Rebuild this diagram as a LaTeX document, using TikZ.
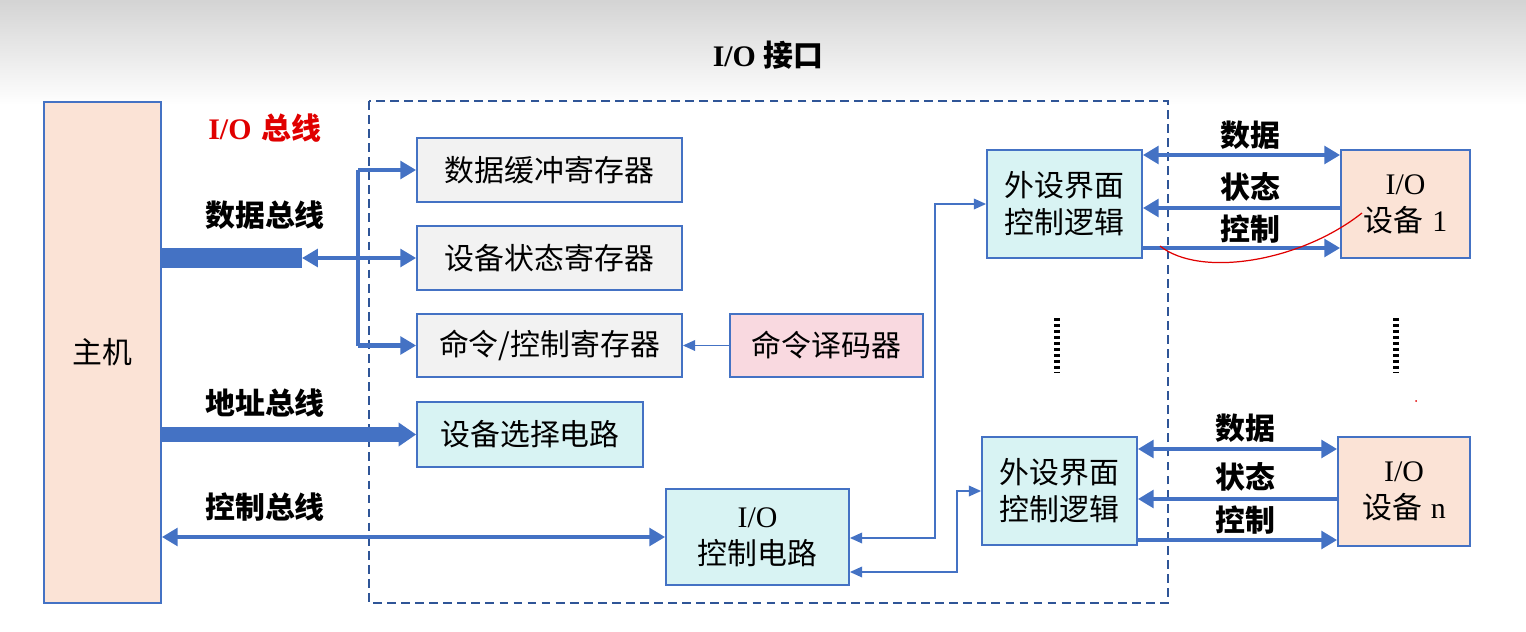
\documentclass[tikz,border=0pt]{standalone}
\usepackage{fontspec}
\setmainfont{Liberation Serif}
\newfontfamily\cjk{Noto Sans CJK SC}
\usetikzlibrary{arrows.meta}
\definecolor{lineblue}{HTML}{4472C4}
\definecolor{frameblue}{HTML}{2F5597}
\definecolor{peach}{HTML}{FBE3D6}
\definecolor{reggray}{HTML}{F2F2F2}
\definecolor{pinkfill}{HTML}{F9D9E0}
\definecolor{cyanfill}{HTML}{D8F3F3}
\definecolor{busred}{HTML}{E00000}
\tikzset{
  blk/.style={draw=lineblue, line width=1pt, inner sep=0pt, align=center,
    font=\fontsize{17}{21}\selectfont\cjk},
  hostbox/.style={blk, fill=peach},
  regbox/.style={blk, fill=reggray},
  decbox/.style={blk, fill=pinkfill},
  ctlbox/.style={blk, fill=cyanfill},
  lbl/.style={font=\fontsize{17}{20}\selectfont\cjk\bfseries},
  bus/.style={draw=lineblue, line width=2.3pt, >={Triangle[length=9pt,width=10pt]}},
  sig/.style={draw=lineblue, line width=1.1pt, >={Triangle[length=7pt,width=6pt]}},
  dots/.style={line width=3pt, dash pattern=on 1.6pt off 1.8pt}
}
\begin{document}
\begin{tikzpicture}[x=0.02cm,y=-0.02cm]
  \useasboundingbox (0,0) rectangle (1526,632);
  \shade[top color=black!17, bottom color=white] (0,0) rectangle (1526,105);
  \node[font=\fontsize{17}{18}\selectfont\bfseries] (title) at (768,55) {I/O {\cjk 接口}};

  % host and interface frame
  \node[hostbox, minimum width=2.34cm, minimum height=10.02cm] (host) at (102.5,352.5) {主机};
  \draw[frameblue, line width=1.4pt, dash pattern=on 5pt off 3pt] (369,101) rectangle (1168,603);

  % registers and circuits
  \node[regbox, minimum width=5.3cm, minimum height=1.28cm] (buf) at (549.5,170) {数据缓冲寄存器};
  \node[regbox, minimum width=5.3cm, minimum height=1.28cm] (stat) at (549.5,258) {设备状态寄存器};
  \node[regbox, minimum width=5.3cm, minimum height=1.26cm] (cmd) at (549.5,345.5) {命令/控制寄存器};
  \node[decbox, minimum width=3.86cm, minimum height=1.26cm] (dec) at (826.5,345.5) {命令译码器};
  \node[ctlbox, minimum width=4.52cm, minimum height=1.3cm] (sel) at (530,434.5) {设备选择电路};
  \node[ctlbox, minimum width=3.66cm, minimum height=1.92cm] (ioc) at (757.5,537) {\textrm{I/O}\\控制电路};
  \node[ctlbox, minimum width=3.1cm, minimum height=2.16cm] (pif1) at (1064.5,204) {外设界面\\控制逻辑};
  \node[ctlbox, minimum width=3.1cm, minimum height=2.16cm] (pifn) at (1059.5,491) {外设界面\\控制逻辑};
  \node[hostbox, minimum width=2.58cm, minimum height=2.16cm] (dev1) at (1405.5,204) {\textrm{I/O}\\设备\hspace{0.3em}\textrm{1}};
  \node[hostbox, minimum width=2.64cm, minimum height=2.18cm] (devn) at (1404,491.5) {\textrm{I/O}\\设备\hspace{0.3em}\textrm{n}};

  % bus labels
  \node[lbl, text=busred] (iobus) at (265,128) {\textrm{I/O}\hspace{0.35em}总线};
  \node[lbl] (dlbl) at (265,215) {数据总线};
  \node[lbl] (albl) at (265,403) {地址总线};
  \node[lbl] (clbl) at (265,507) {控制总线};

  % data bus
  \coordinate (dend) at (302,258);
  \coordinate (split) at (358,258);
  \draw[lineblue, line width=11.3pt] (host.east |- dend) -- (dend);
  \draw[bus, <-] (dend) -- (split);
  \draw[bus] (split |- buf.west) -- (split |- cmd.west);
  \draw[bus, ->] (split |- buf.west) -- (buf.west);
  \draw[bus, ->] (split) -- (stat.west);
  \draw[bus, ->] (split |- cmd.west) -- (cmd.west);
  \draw[sig, ->] (dec) -- (cmd);

  % address and control bus
  \draw[lineblue, line width=8pt, -{Triangle[length=10pt,width=13pt]}] (host.east |- sel.west) -- (sel.west);
  \draw[bus, <->] (host.east |- ioc.west) -- (ioc.west);

  % I/O control circuit to peripheral logic
  \draw[sig, <->] (pif1.west) -- (935,204) -- (935,538) -- (ioc.east |- 0,538);
  \draw[sig, <->] (pifn.west) -- (957,491) -- (957,572) -- (ioc.east |- 0,572);

  % device 1 lines
  \node[lbl] (d1data) at (1250,135) {数据};
  \node[lbl] (d1stat) at (1250,187) {状态};
  \node[lbl] (d1ctl) at (1250,229) {控制};
  \draw[bus, <->] (pif1.east |- 0,155) -- (dev1.west |- 0,155);
  \draw[bus, <-] (pif1.east |- 0,208) -- (dev1.west |- 0,208);
  \draw[bus, ->] (pif1.east |- 0,248) -- (dev1.west |- 0,248);

  % device n lines
  \node[lbl] (dndata) at (1245,428) {数据};
  \node[lbl] (dnstat) at (1245,477) {状态};
  \node[lbl] (dnctl) at (1245,520) {控制};
  \draw[bus, <->] (pifn.east |- 0,449) -- (devn.west |- 0,449);
  \draw[bus, <-] (pifn.east |- 0,499) -- (devn.west |- 0,499);
  \draw[bus, ->] (pifn.east |- 0,540) -- (devn.west |- 0,540);

  % ellipsis between units
  \draw[dots] (1057,318) -- (1057,372);
  \draw[dots] (1396,318) -- (1396,372);

  % hand-drawn mark
  \draw[busred, line width=0.7pt] (1160,246) .. controls (1200,278) and (1300,262) .. (1362,213);
  \fill[busred] (1416,401) circle [radius=1];
\end{tikzpicture}
\end{document}
